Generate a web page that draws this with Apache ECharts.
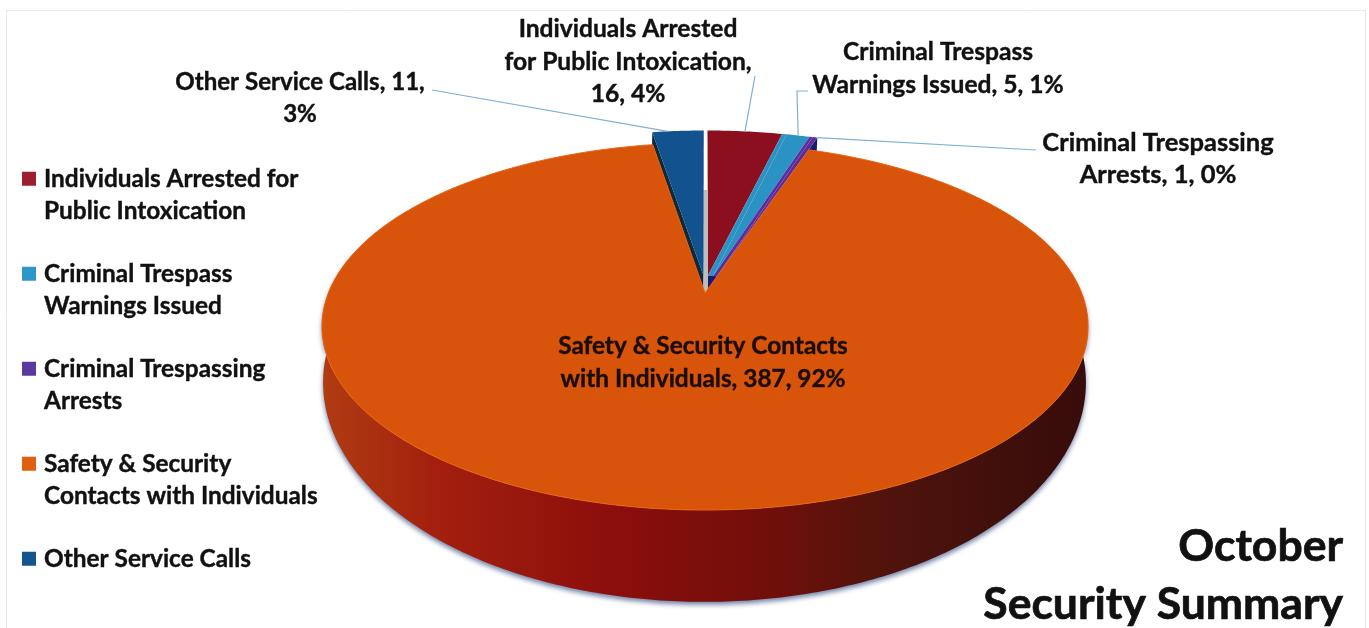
<!DOCTYPE html>
<html>
<head>
<meta charset="utf-8">
<title>October Security Summary</title>
<style>html,body{margin:0;padding:0;background:#fff}#chart{width:1369px;height:628px}</style>
<script src="https://cdn.jsdelivr.net/npm/echarts@6/dist/echarts.min.js"></script>
</head>
<body>
<div id="chart"></div>
<script>
// Monthly contact counts, clockwise from twelve o'clock.
const categories = [
  'Individuals Arrested for Public Intoxication',
  'Criminal Trespass Warnings Issued',
  'Criminal Trespassing Arrests',
  'Safety & Security Contacts with Individuals',
  'Other Service Calls'
];
const contactCounts = [16, 5, 1, 387, 11];
const legendLines = [
  'Individuals Arrested for\nPublic Intoxication',
  'Criminal Trespass\nWarnings Issued',
  'Criminal Trespassing\nArrests',
  'Safety & Security\nContacts with Individuals',
  'Other Service Calls'
];
const labelHeads = [
  'Individuals Arrested\nfor Public Intoxication,\n',
  'Criminal Trespass\nWarnings Issued, ',
  'Criminal Trespassing\nArrests, ',
  'Safety & Security Contacts\nwith Individuals, ',
  'Other Service Calls, '
];
const labelBreaks = [', ', ', ', ', ', ', ', ',\n'];
const faceColors = ['#8c0f20', '#2a93c4', '#5b2d9e', '#d8540a', '#12528e'];
const legendColors = ['#9c1f30', '#2d97c8', '#5a3aa0', '#e0600f', '#14558f'];
const sideColors = ['#4a0812', '#14506e', '#1b1a72', '#5a1408', '#0e2a38'];

// How far each slice is pulled out of the pie, in units of its radius.
const explodeOffsets = [[0.008, -0.1], [0.022, -0.098], [0.032, -0.096], [0, 0], [-0.004, -0.1]];

// Label anchors and leader elbows, in page pixels.
const labelCenters = [[628, 62], [938, 68.5], [1158, 159], [703, 362.5], [300, 98]];
const labelSizes = [24.6, 24.6, 25.5, 24.4, 24.1];
const leaderEnds = [[755, 76], [808, 91], [1036, 150], null, [432, 90]];
const leaderElbows = [null, [797, 91], null, null, null];
const leaderFractions = [0.5, 0.5, 1, 0, 0.3];

const FONT = 'Lato, "Open Sans", sans-serif';
const total = contactCounts.reduce((a, b) => a + b, 0);
const starts = [];
contactCounts.reduce((acc, v, i) => (starts[i] = acc, acc + v), 0);

// Perspective projection of the unit disc on to the two planes of the pie.
const topPlane = { cx: 705, cy: 293, R: 376.6, S: 177.4 };
const basePlane = { cx: 704.5, cy: 342.5, R: 375, S: 212 };
const PERSPECTIVE = 0.1826;

function project(plane, u, v) {
  const w = 1 - PERSPECTIVE * v;
  return [plane.cx + plane.R * u / w, plane.cy + plane.S * v / w];
}
function rim(plane, angle, off) {
  return project(plane, Math.sin(angle) + off[0], -Math.cos(angle) + off[1]);
}
function arc(plane, a0, a1, off) {
  const steps = Math.max(2, Math.ceil(Math.abs(a1 - a0) / 0.012));
  const pts = [];
  for (let k = 0; k <= steps; k++) pts.push(rim(plane, a0 + (a1 - a0) * k / steps, off));
  return pts;
}
const poly = (points, style) => ({ type: 'polygon', shape: { points }, style });

function renderSlice(index, value) {
  const a0 = starts[index] / total * 2 * Math.PI;
  const a1 = (starts[index] + value) / total * 2 * Math.PI;
  const off = explodeOffsets[index];
  const apexTop = project(topPlane, off[0], off[1]);
  const apexBase = project(basePlane, off[0], off[1]);
  const children = [];

  if (index === 3) {
    // The large slice: curved wall first, then its face.
    const frontStart = Math.PI / 3, frontEnd = Math.PI * 5 / 3;
    const wall = arc(topPlane, frontStart, frontEnd, off).concat(arc(basePlane, frontEnd, frontStart, off));
    children.push(poly(wall, {
      fill: new echarts.graphic.LinearGradient(0, 0, 1, 0, [
        { offset: 0, color: '#b03c12' },
        { offset: 0.15, color: '#a31f0e' },
        { offset: 0.38, color: '#8c0e0c' },
        { offset: 0.6, color: '#6e0f0a' },
        { offset: 0.72, color: '#52140c' },
        { offset: 0.9, color: '#3f0f0b' },
        { offset: 1, color: '#370c0a' }
      ]),
      shadowColor: 'rgba(80,100,145,0.8)', shadowBlur: 5, shadowOffsetY: 3
    }));
    const face = [apexTop].concat(arc(topPlane, a0, a1, off));
    children.push(poly(face, { fill: faceColors[index], stroke: '#ea6410', lineWidth: 1 }));
  } else {
    // Exploded slices: the exposed radial wall, then the face.
    if (index === 2 || index === 4) {
      const wallAngle = index === 4 ? a0 : a1;
      const outerT = rim(topPlane, wallAngle, off), outerB = rim(basePlane, wallAngle, off);
      children.push(poly([apexTop, outerT, outerB, apexBase], { fill: sideColors[index] }));
    }
    if (index === 2) {
      // Inner walls of the three exploded slices, closing down to the pie's centre.
      const first = explodeOffsets[0];
      children.push(poly([project(topPlane, first[0], first[1]), apexTop, apexBase, project(basePlane, first[0], first[1])], { fill: sideColors[index] }));
    }
    if (index === 4) {
      // Pale sliver of inner wall seen through the gap beside the first slice.
      const gapTop = project(topPlane, off[0], off[1] - 0.55);
      const gapX = project(topPlane, explodeOffsets[0][0], 0)[0];
      children.push(poly([[apexTop[0], gapTop[1]], [gapX, gapTop[1]], [gapX, apexBase[1]], [apexTop[0], apexBase[1]]], { fill: '#bdbdbd' }));
    }
    if (index === 1 || index === 2) {
      // Neighbouring exploded slices sit edge to edge; close the seam between them.
      const prev = explodeOffsets[index - 1];
      children.push(poly([project(topPlane, prev[0], prev[1]), rim(topPlane, a0, prev), rim(topPlane, a0, off), apexTop], { fill: faceColors[index] }));
    }
    children.push(poly([apexTop].concat(arc(topPlane, a0, a1, off)), { fill: faceColors[index] }));

    const anchor = rim(topPlane, a0 + (a1 - a0) * leaderFractions[index], off);
    const linePts = [anchor];
    if (leaderElbows[index]) linePts.push(leaderElbows[index]);
    linePts.push(leaderEnds[index]);
    children.push({ type: 'polyline', shape: { points: linePts }, style: { fill: 'none', stroke: '#7fb0d8', lineWidth: 1.2 } });
  }

  const pct = Math.round(value / total * 100);
  const style = {
    text: labelHeads[index] + value + labelBreaks[index] + pct + '%',
    x: labelCenters[index][0], y: labelCenters[index][1],
    align: 'center', verticalAlign: 'middle',
    fontFamily: FONT, fontWeight: 700, fontSize: labelSizes[index], lineHeight: 32.5,
    fill: '#111', stroke: '#111', lineWidth: 0.4
  };
  if (index === 3) Object.assign(style, { fill: '#1a0d04', stroke: '#1a0d04', shadowColor: 'rgba(60,20,0,0.8)', shadowBlur: 2 });
  children.push({ type: 'text', style });
  return { type: 'group', children };
}

// The first line of each legend entry sits level with its colour key.
const legendNames = {};
categories.forEach((c, i) => {
  legendNames[c] = legendLines[i].includes('\n') ? ' \n' + legendLines[i] : ' \n' + legendLines[i] + '\n ';
});

const chart = echarts.init(document.getElementById('chart'), null, { renderer: 'canvas' });
chart.setOption({
  animation: false,
  backgroundColor: '#fff',
  graphic: [{
    type: 'rect', silent: true, z: 0,
    shape: { x: 6.5, y: 10.5, width: 1359, height: 640 },
    style: { fill: 'none', stroke: '#e3eaf1', lineWidth: 1 }
  }],
  title: {
    text: 'October\nSecurity Summary',
    left: 1343, top: 518, padding: 0, textAlign: 'right',
    textStyle: {
      fontFamily: FONT, fontWeight: 700, fontSize: 44.5, lineHeight: 58, color: '#111',
      textBorderColor: '#111', textBorderWidth: 0.7
    }
  },
  legend: {
    orient: 'vertical', left: 22, top: 130,
    itemWidth: 14, itemHeight: 14, itemGap: -2.5, padding: 0,
    icon: 'rect', selectedMode: false,
    data: categories,
    formatter: name => legendNames[name],
    textStyle: {
      fontFamily: FONT, fontWeight: 700, fontSize: 24.4, lineHeight: 32.5, color: '#111',
      textBorderColor: '#111', textBorderWidth: 0.4, padding: [0, 0, 0, 3]
    }
  },
  series: categories.map((name, i) => ({
    type: 'custom',
    name,
    coordinateSystem: 'none',
    z: i === 3 ? 3 : 2,
    itemStyle: { color: legendColors[i] },
    data: [[contactCounts[i]]],
    renderItem: (params, api) => renderSlice(i, api.value(0)),
    silent: true
  }))
});
</script>
</body>
</html>
